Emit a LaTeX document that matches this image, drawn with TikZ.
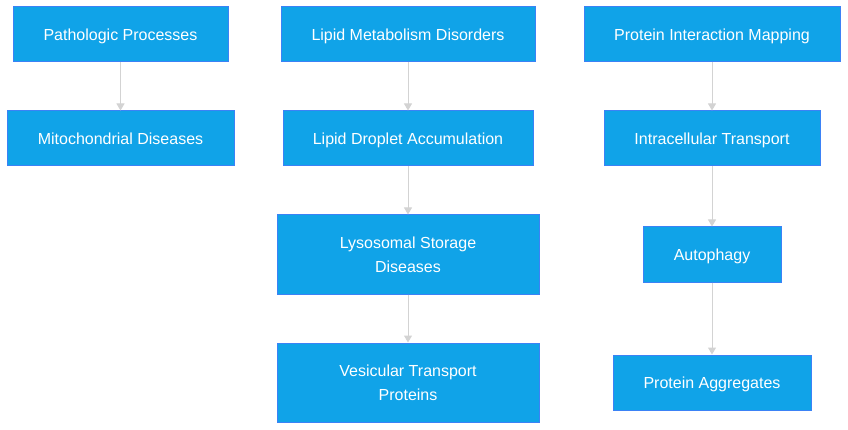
\documentclass[tikz,border=0pt]{standalone}
\usepackage{fontspec}
\setmainfont{Liberation Sans}
\usetikzlibrary{arrows.meta}
\definecolor{boxfill}{HTML}{10A3E8}
\definecolor{boxline}{HTML}{3B82F6}
\definecolor{linkgray}{HTML}{D3D3D3}
\tikzset{
    box/.style={draw=boxline, fill=boxfill, line width=1pt, text=white, align=center,
      inner sep=0pt, font=\fontsize{16}{24}\selectfont},
    oneline/.style={box, minimum height=55pt, text height=11.6pt, text depth=0pt},
    link/.style={draw=linkgray, line width=1pt, -{Triangle[width=8pt,length=7pt]}}
}

\begin{document}
\begin{tikzpicture}[x=1pt,y=-1pt]
                \useasboundingbox (0,0) rectangle (848,430);
                \node [oneline, minimum width=215pt] (patho) at (120.5,34.5) {Pathologic Processes};
                \node [oneline, minimum width=227pt] (mito) at (120.5,138.5) {Mitochondrial Diseases};
                \node [oneline, minimum width=254pt] (lipid) at (408,34.5) {Lipid Metabolism Disorders};
                \node [oneline, minimum width=250pt] (droplet) at (408,138.5) {Lipid Droplet Accumulation};
                \node [box, minimum width=262pt, minimum height=79pt] (lyso) at (408,254.5) {Lysosomal Storage\\Diseases};
                \node [box, minimum width=262pt, minimum height=79pt] (vesic) at (408,382.5) {Vesicular Transport\\Proteins};
                \node [oneline, minimum width=256pt] (mapping) at (712,34.5) {Protein Interaction Mapping};
                \node [oneline, minimum width=216pt] (transport) at (712,138.5) {Intracellular Transport};
                \node [oneline, minimum width=138pt] (autoph) at (712,254.5) {Autophagy};
                \node [oneline, minimum width=198pt] (aggr) at (712,382.5) {Protein Aggregates};
                \draw [link] (patho) -- (mito);
                \draw [link] (lipid) -- (droplet);
                \draw [link] (droplet) -- (lyso);
                \draw [link] (lyso) -- (vesic);
                \draw [link] (mapping) -- (transport);
                \draw [link] (transport) -- (autoph);
                \draw [link] (autoph) -- (aggr);
      \end{tikzpicture}
\end{document}
